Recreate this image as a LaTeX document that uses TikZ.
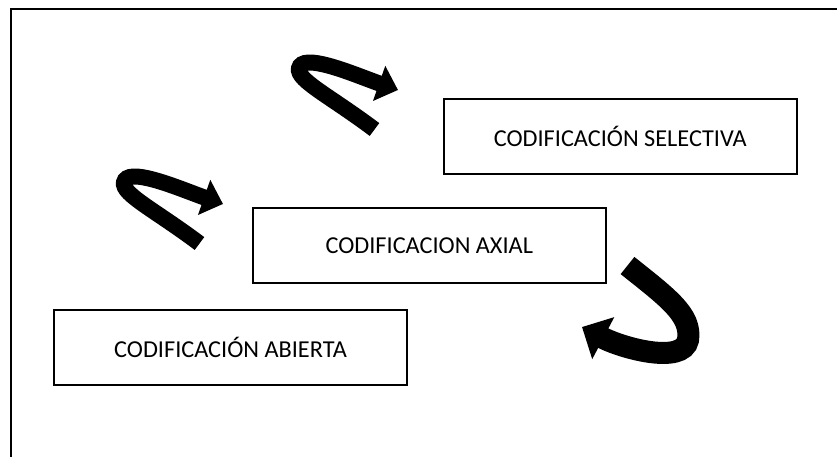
\documentclass[tikz,border=0pt]{standalone}
\usepackage{fontspec}
\setmainfont{Carlito}
\usetikzlibrary{arrows.meta}

\tikzset{
  codbox/.style={draw, line width=2pt, minimum width=353pt, minimum height=75pt,
    inner sep=0pt, font=\fontsize{24.3}{29}\selectfont},
  flecha/.style={line width=16pt, -{Triangle[length=20pt,width=36pt]}},
  flechagrande/.style={line width=22pt, -{Triangle[length=24pt,width=46pt]}}
}

\begin{document}
\begin{tikzpicture}[x=1pt,y=-1pt]
\useasboundingbox (0,0) rectangle (837,457);
\coordinate (marcoA) at (837,9);
\coordinate (marcoB) at (11,9);
\coordinate (marcoC) at (11,457);
\draw[line width=2pt] (marcoA) -- (marcoB) -- (marcoC);

\node[codbox] (selectiva) at (620.3,136.5) {CODIFICACIÓN SELECTIVA};
\node[codbox] (axial) at (429.3,245.5) {CODIFICACION AXIAL};
\node[codbox] (abierta) at (230.5,347.8) {CODIFICACIÓN ABIERTA};

\coordinate (cola1) at (374.5,129.5);
\coordinate (giro1) at (300,66);
\coordinate (punta1) at (398,90);
\coordinate (cola2) at (199.5,243.5);
\coordinate (giro2) at (125,180);
\coordinate (punta2) at (223,204);
\coordinate (cola3) at (627.5,265.5);
\coordinate (giro3) at (688,340);
\coordinate (punta3) at (582,327);
\draw[flecha] (cola1) .. controls +(-48,-36) and +(-8,12) .. (giro1)
  .. controls +(8,-12) and +(-40,-14) .. (punta1);
\draw[flecha] (cola2) .. controls +(-48,-36) and +(-8,12) .. (giro2)
  .. controls +(8,-12) and +(-40,-14) .. (punta2);
\draw[flechagrande] (cola3) .. controls +(40,32) and +(4,-25) .. (giro3)
  .. controls +(-5,25) and +(40,21) .. (punta3);
\end{tikzpicture}
\end{document}
